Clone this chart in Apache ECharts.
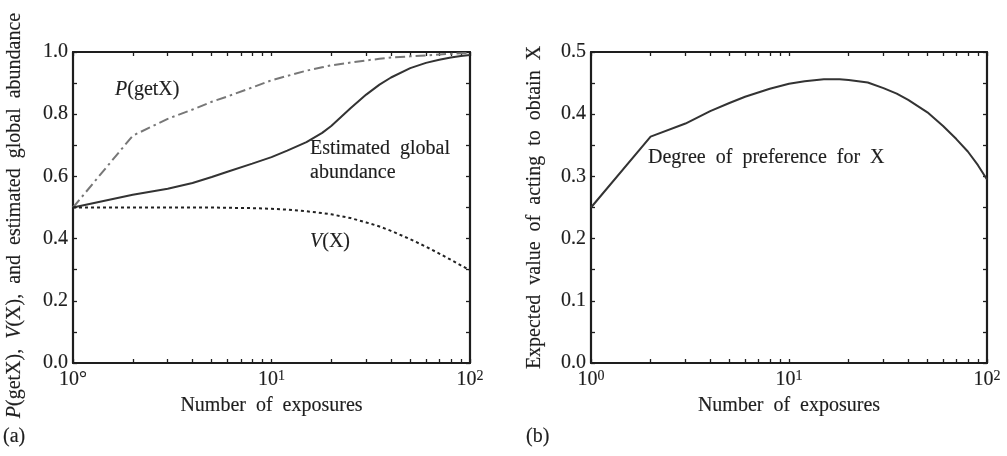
<!DOCTYPE html>
<html>
<head>
<meta charset="utf-8">
<script src="https://cdn.jsdelivr.net/npm/echarts@6/dist/echarts.min.js"></script>
<style>html,body{margin:0;padding:0;background:#fff}#c{width:1007px;height:456px}</style>
</head>
<body>
<div id="c"></div>
<script>
// ---- data ----
const nExposures = [1, 2, 3, 4, 5, 6, 8, 10, 12, 15, 18, 20, 25, 30, 35, 40, 50, 60, 70, 80, 90, 100];
const pGetX = [0.500, 0.731, 0.785, 0.815, 0.840, 0.857, 0.886, 0.909, 0.923, 0.940, 0.951, 0.957, 0.966, 0.973, 0.978, 0.982, 0.986, 0.989, 0.992, 0.994, 0.996, 0.997];
const estAbundance = [0.500, 0.541, 0.560, 0.579, 0.598, 0.615, 0.641, 0.662, 0.683, 0.710, 0.740, 0.762, 0.819, 0.863, 0.895, 0.918, 0.948, 0.965, 0.975, 0.982, 0.987, 0.990];
const vX = [0.500, 0.500, 0.500, 0.500, 0.500, 0.499, 0.498, 0.496, 0.493, 0.488, 0.482, 0.478, 0.466, 0.452, 0.439, 0.425, 0.398, 0.374, 0.352, 0.332, 0.314, 0.298];
const preference = [0.250, 0.364, 0.385, 0.405, 0.418, 0.428, 0.441, 0.449, 0.453, 0.456, 0.456, 0.455, 0.451, 0.442, 0.433, 0.423, 0.403, 0.381, 0.360, 0.340, 0.318, 0.295];
const xTickValues = [1, 2, 3, 4, 5, 6, 7, 8, 9, 10, 20, 30, 40, 50, 60, 70, 80, 90, 100];
const xTickLabelsA = { 1: '10°', 10: '10{sup|1}', 100: '10{sup|2}' };
const xTickLabelsB = { 1: '10{sup|0}', 10: '10{sup|1}', 100: '10{sup|2}' };
const yTicksA = [0, 0.2, 0.4, 0.6, 0.8, 1.0];
const yTicksB = [0, 0.1, 0.2, 0.3, 0.4, 0.5];

// ---- styling ----
const FONT = '"Liberation Serif", "DejaVu Serif", serif';
const FS = 20;
const INK = '#1e1e1e';
const heavy = { textBorderColor: INK, textBorderWidth: 0.15 };
const axisLine = { show: true, onZero: false, lineStyle: { color: INK, width: 2.2 } };
const tick = { show: true, inside: true, length: 4, lineStyle: { color: INK, width: 1.3 } };
const labelRich = {
  sup: Object.assign({ fontSize: 14, fontFamily: FONT, color: INK, verticalAlign: 'top', lineHeight: 14 }, heavy)
};
function xAxisBase(gridIndex, pos, labels) {
  return {
    type: 'log', logBase: 10, min: 1, max: 100, gridIndex, position: pos,
    axisLine, splitLine: { show: false },
    axisTick: Object.assign({}, tick, { customValues: xTickValues }),
    axisLabel: labels ? Object.assign({
      show: true, margin: 6, fontFamily: FONT, fontSize: FS, color: INK, lineHeight: 22,
      formatter: v => labels[Math.round(v)] || '', rich: labelRich
    }, heavy) : { show: false }
  };
}
function yAxisBase(gridIndex, pos, max, interval, labelVals, withLabels) {
  return {
    type: 'value', min: 0, max, interval, gridIndex, position: pos,
    axisLine, splitLine: { show: false }, axisTick: tick,
    axisLabel: withLabels ? Object.assign({
      show: true, margin: 5, fontFamily: FONT, fontSize: FS, color: INK,
      formatter: v => labelVals.some(t => Math.abs(t - v) < 1e-6) ? v.toFixed(1) : ''
    }, heavy) : { show: false }
  };
}
const toPairs = arr => nExposures.map((n, i) => [n, arr[i]]);
const nameStyle = Object.assign({ fontFamily: FONT, fontSize: FS, color: INK }, heavy);

const xA = xAxisBase(0, 'bottom', xTickLabelsA);
xA.name = 'Number  of  exposures'; xA.nameLocation = 'middle'; xA.nameGap = 31;
xA.nameTextStyle = nameStyle;
const xB = xAxisBase(1, 'bottom', xTickLabelsB);
xB.name = 'Number  of  exposures'; xB.nameLocation = 'middle'; xB.nameGap = 31;
xB.nameTextStyle = nameStyle;

const italic = Object.assign({ fontStyle: 'italic', fontFamily: FONT, fontSize: FS, color: INK }, heavy);
const yA = yAxisBase(0, 'left', 1.0, 0.1, yTicksA, true);
yA.name = '{i|P}(getX),  {i|V}(X),  and  estimated  global  abundance';
yA.nameLocation = 'middle'; yA.nameGap = 48;
yA.nameTextStyle = Object.assign({ rich: { i: italic }, padding: [0, 16, 0, 0] }, nameStyle);
const yB = yAxisBase(1, 'left', 0.5, 0.05, yTicksB, true);
yB.name = 'Expected  value  of  acting  to  obtain  X';
yB.nameLocation = 'middle'; yB.nameGap = 46;
yB.nameTextStyle = nameStyle;

function label(x, y, text, rich) {
  const style = { text, fontFamily: FONT, fontSize: FS, fill: INK, verticalAlign: 'middle',
    stroke: INK, lineWidth: 0.15 };
  if (rich) style.rich = { i: { fontStyle: 'italic', fontFamily: FONT, fontSize: FS, fill: INK, stroke: INK, lineWidth: 0.15 } };
  return { type: 'text', x, y, style };
}

const option = {
  animation: false,
  backgroundColor: '#fff',
  grid: [
    { left: 73, right: 537, top: 52, bottom: 93, outerBoundsMode: 'none', containLabel: false },
    { left: 591, right: 20, top: 52, bottom: 93, outerBoundsMode: 'none', containLabel: false }
  ],
  xAxis: [xA, xAxisBase(0, 'top', null), xB, xAxisBase(1, 'top', null)],
  yAxis: [yA, yAxisBase(0, 'right', 1.0, 0.1, yTicksA, false), yB, yAxisBase(1, 'right', 0.5, 0.05, yTicksB, false)],
  series: [
    { type: 'line', xAxisIndex: 0, yAxisIndex: 0, data: toPairs(pGetX), symbol: 'none',
      lineStyle: { color: '#777', width: 2, type: [10, 4, 2.5, 4] } },
    { type: 'line', xAxisIndex: 0, yAxisIndex: 0, data: toPairs(estAbundance), symbol: 'none',
      lineStyle: { color: '#333', width: 2 } },
    { type: 'line', xAxisIndex: 0, yAxisIndex: 0, data: toPairs(vX), symbol: 'none',
      lineStyle: { color: '#222', width: 2, type: [3, 3] } },
    { type: 'line', xAxisIndex: 2, yAxisIndex: 2, data: toPairs(preference), symbol: 'none',
      lineStyle: { color: '#333', width: 2 } }
  ],
  graphic: [
    label(115, 90, '{i|P}(getX)', true),
    label(310, 149, 'Estimated  global'),
    label(310, 173, 'abundance'),
    label(310, 242, '{i|V}(X)', true),
    label(648, 158, 'Degree  of  preference  for  X'),
    label(3, 437, '(a)'),
    label(526, 437, '(b)')
  ]
};
const chart = echarts.init(document.getElementById('c'), null, { renderer: 'canvas' });
chart.setOption(option);
</script>
</body>
</html>
